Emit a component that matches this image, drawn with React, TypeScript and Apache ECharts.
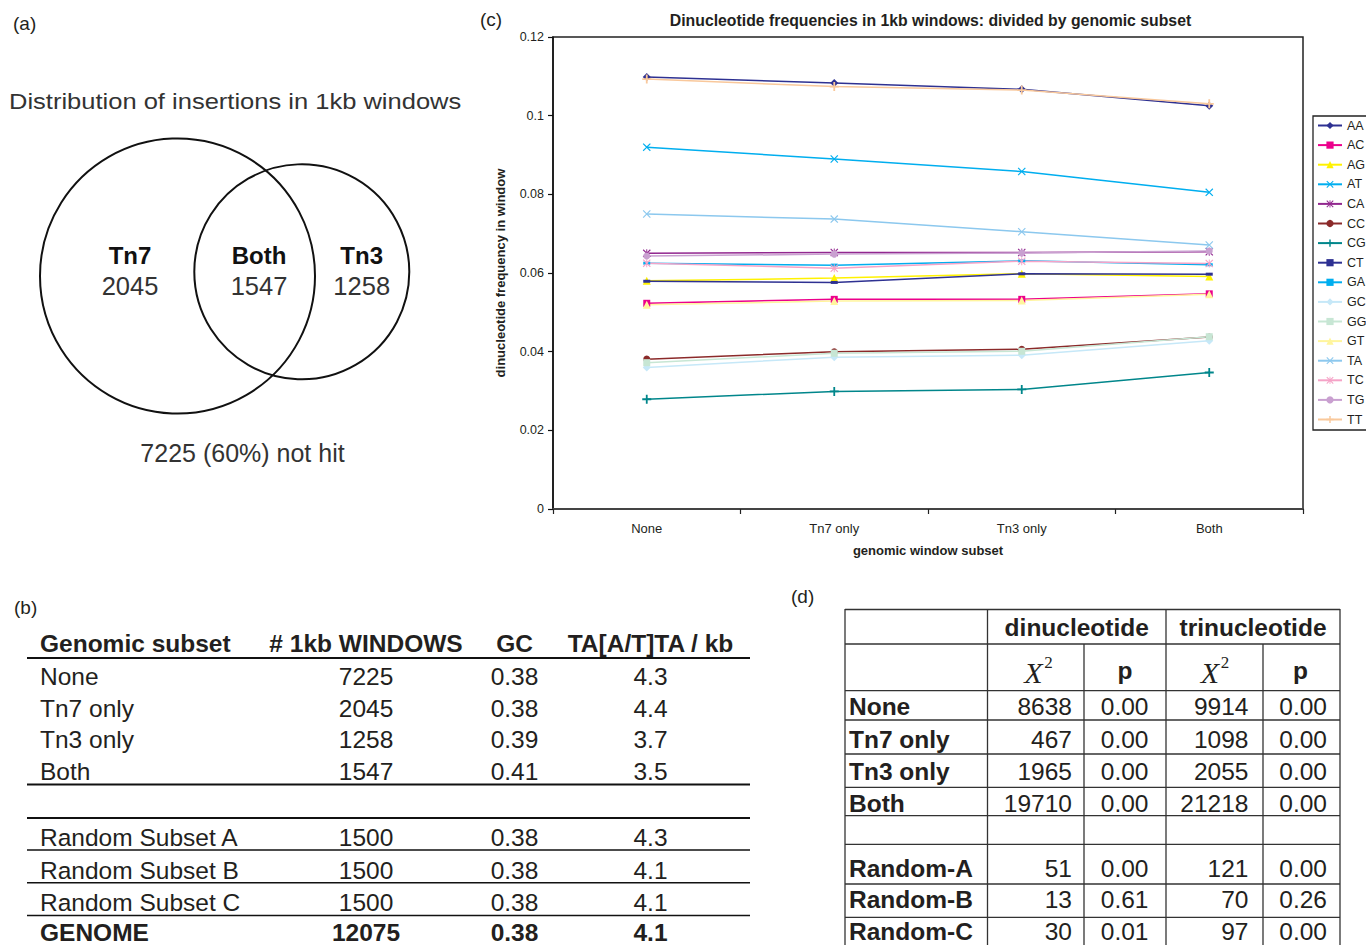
import React, { useEffect, useRef } from "react";
import * as echarts from "echarts";

// ---------------- data ----------------
const subsets = ["None", "Tn7 only", "Tn3 only", "Both"];
const dinucNames = ["AA", "AC", "AG", "AT", "CA", "CC", "CG", "CT", "GA", "GC", "GG", "GT", "TA", "TC", "TG", "TT"];

const AA = [0.1098, 0.1083, 0.1067, 0.1025];
const AC = [0.0523, 0.0533, 0.0533, 0.0547];
const AG = [0.058, 0.0587, 0.0598, 0.0591];
const AT = [0.092, 0.089, 0.0858, 0.0805];
const CA = [0.065, 0.0652, 0.0652, 0.0654];
const CC = [0.0381, 0.04, 0.0406, 0.0437];
const CG = [0.0279, 0.0299, 0.0304, 0.0347];
const CT = [0.0579, 0.0576, 0.0598, 0.0597];
const GA = [0.0625, 0.062, 0.0631, 0.0621];
const GC = [0.036, 0.0386, 0.0391, 0.0428];
const GG = [0.0372, 0.0396, 0.0401, 0.0438];
const GT = [0.0519, 0.0529, 0.053, 0.0546];
const TA = [0.075, 0.0737, 0.0705, 0.0671];
const TC = [0.0625, 0.0612, 0.063, 0.0624];
const TG = [0.0643, 0.0648, 0.0651, 0.0656];
const TT = [0.1093, 0.1074, 0.1065, 0.103];

const freqs: Record<string, number[]> = { AA, AC, AG, AT, CA, CC, CG, CT, GA, GC, GG, GT, TA, TC, TG, TT };

const yMin = 0;
const yMax = 0.12;
const yStep = 0.02;

// Venn (a)
const vennLabels = ["Tn7", "Both", "Tn3"];
const vennCounts = [2045, 1547, 1258];
const notHitCount = 7225;
const notHitPct = 60;

// Table (b)
const bHeaders = ["Genomic subset", "# 1kb WINDOWS", "GC", "TA[A/T]TA / kb"];
const bSubsets = ["None", "Tn7 only", "Tn3 only", "Both", "Random Subset A", "Random Subset B", "Random Subset C", "GENOME"];
const bWindows = [7225, 2045, 1258, 1547, 1500, 1500, 1500, 12075];
const bGC = [0.38, 0.38, 0.39, 0.41, 0.38, 0.38, 0.38, 0.38];
const bTA = [4.3, 4.4, 3.7, 3.5, 4.3, 4.1, 4.1, 4.1];

// Table (d)
const dGroups = ["dinucleotide", "trinucleotide"];
const dRows = ["None", "Tn7 only", "Tn3 only", "Both", "Random-A", "Random-B", "Random-C"];
const dDiX2 = [8638, 467, 1965, 19710, 51, 13, 30];
const dDiP = [0.0, 0.0, 0.0, 0.0, 0.0, 0.61, 0.01];
const dTriX2 = [9914, 1098, 2055, 21218, 121, 70, 97];
const dTriP = [0.0, 0.0, 0.0, 0.0, 0.0, 0.26, 0.0];

// ---------------- styles ----------------
const FONT = '"Liberation Sans", Arial, Helvetica, sans-serif';
const SERIF = '"Liberation Serif", "Times New Roman", serif';
const INK = "#231F20";

const PLUS = "path://M4,0H6V4H10V6H6V10H4V6H0V4H4Z";
const CROSS = "path://M1,0L5,4L9,0L10,1L6,5L10,9L9,10L5,6L1,10L0,9L4,5L0,1Z";
const STAR = "path://M1,0L5,4L9,0L10,1L6,5L10,9L9,10L5,6L1,10L0,9L4,5L0,1ZM4.4,0H5.6V10H4.4Z";

const seriesLook: Record<string, { color: string; symbol: string; size: number | number[] }> = {
  AA: { color: "#2E3192", symbol: "diamond", size: 8 },
  AC: { color: "#EC008C", symbol: "rect", size: 7 },
  AG: { color: "#FFF200", symbol: "triangle", size: 8 },
  AT: { color: "#00AEEF", symbol: CROSS, size: 8 },
  CA: { color: "#92278F", symbol: STAR, size: 8 },
  CC: { color: "#8B2A2A", symbol: "circle", size: 7 },
  CG: { color: "#00868B", symbol: PLUS, size: 9 },
  CT: { color: "#2E3192", symbol: "rect", size: [7, 3] },
  GA: { color: "#00AEEF", symbol: "rect", size: [7, 3] },
  GC: { color: "#C6E8F8", symbol: "diamond", size: 8 },
  GG: { color: "#C7E6D4", symbol: "rect", size: 7 },
  GT: { color: "#FFF59D", symbol: "triangle", size: 8 },
  TA: { color: "#8CC8EE", symbol: CROSS, size: 8 },
  TC: { color: "#F5A3C7", symbol: STAR, size: 8 },
  TG: { color: "#C9A0D0", symbol: "circle", size: 7 },
  TT: { color: "#F9C89B", symbol: PLUS, size: 9 },
};

type TOpt = { align?: string; size?: number; weight?: string; fstyle?: string; family?: string; color?: string; scaleX?: number };
function txt(text: string, x: number, y: number, o: TOpt = {}) {
  const align = o.align || "left";
  return {
    type: "text",
    x,
    y,
    scaleX: o.scaleX ?? 1,
    silent: true,
    z: 10,
    style: {
      text,
      fill: o.color || INK,
      fontFamily: o.family || FONT,
      fontSize: o.size ?? 24.5,
      fontWeight: o.weight || "normal",
      fontStyle: o.fstyle || "normal",
      align,
      textAlign: align,
      verticalAlign: "middle",
      textVerticalAlign: "middle",
    },
  };
}
function ln(x1: number, y1: number, x2: number, y2: number, w: number, color = "#111") {
  return { type: "line", silent: true, z: 5, shape: { x1, y1, x2, y2 }, style: { stroke: color, lineWidth: w } };
}

function buildGraphics() {
  const els: any[] = [];
  // panel letters
  els.push(txt("(a)", 13, 23, { size: 19 }));
  els.push(txt("(b)", 14, 607, { size: 19 }));
  els.push(txt("(c)", 480, 19, { size: 19 }));
  els.push(txt("(d)", 791, 596, { size: 19 }));

  // ----- (a) Venn -----
  els.push(txt("Distribution of insertions in 1kb windows", 9, 101.5, { size: 22, scaleX: 1.16, color: "#333" }));
  els.push({ type: "circle", silent: true, shape: { cx: 177.5, cy: 276, r: 137.5 }, style: { fill: "none", stroke: "#111", lineWidth: 2 } });
  els.push({ type: "circle", silent: true, shape: { cx: 301.8, cy: 271.8, r: 107.5 }, style: { fill: "none", stroke: "#111", lineWidth: 2 } });
  const vennX = [130, 259, 361.7];
  vennLabels.forEach((l, i) => {
    els.push(txt(l, vennX[i], 255, { align: "center", size: 24, weight: "bold", color: "#111" }));
    els.push(txt(String(vennCounts[i]), vennX[i], 286, { align: "center", size: 25.5, color: "#333" }));
  });
  els.push(txt(`${notHitCount} (${notHitPct}%) not hit`, 242.5, 453, { align: "center", size: 25, color: "#333" }));

  // ----- (b) table -----
  const bColX = [40, 366, 514.5, 650.5];
  bHeaders.forEach((h, i) => {
    els.push(txt(h, bColX[i], 643.3, { align: i === 0 ? "left" : "center", weight: "bold" }));
  });
  const bRowY = [676.7, 708.3, 739.5, 771.5, 837.7, 870, 902, 932.4];
  bSubsets.forEach((s, i) => {
    const w = i === bSubsets.length - 1 ? "bold" : "normal";
    els.push(txt(s, bColX[0], bRowY[i], { weight: w }));
    els.push(txt(String(bWindows[i]), bColX[1], bRowY[i], { align: "center", weight: w }));
    els.push(txt(bGC[i].toFixed(2), bColX[2], bRowY[i], { align: "center", weight: w }));
    els.push(txt(bTA[i].toFixed(1), bColX[3], bRowY[i], { align: "center", weight: w }));
  });
  [
    [658, 2.2],
    [784.5, 2.2],
    [818, 2],
    [850, 1.6],
    [882.7, 1.6],
    [915.5, 1.6],
  ].forEach(([y, w]) => els.push(ln(27, y, 750, y, w)));

  // ----- (d) table -----
  const dL = 845, dC1 = 987.5, dC2 = 1084, dC3 = 1166, dC4 = 1263, dR = 1340;
  const hY = [609.5, 644, 690.7, 720, 754, 787.3, 815.7, 844.3, 884, 917.3];
  const lc = "#333";
  hY.forEach((y) => els.push(ln(dL, y, dR, y, 1.3, lc)));
  [dL, dC1, dC3, dR].forEach((x) => els.push(ln(x, 609, x, 945, 1.3, lc)));
  [dC2, dC4].forEach((x) => els.push(ln(x, 644, x, 945, 1.3, lc)));
  els.push(txt(dGroups[0], (dC1 + dC3) / 2, 627, { align: "center", weight: "bold" }));
  els.push(txt(dGroups[1], (dC3 + dR) / 2, 627, { align: "center", weight: "bold" }));
  // X^2 and p
  [[1033.5, 1048.5], [1210, 1225]].forEach(([xx, sx]) => {
    els.push(txt("X", xx, 672, { align: "center", size: 30, family: SERIF, fstyle: "italic" }));
    els.push(txt("2", sx, 662, { align: "center", size: 17, family: SERIF }));
  });
  els.push(txt("p", (dC2 + dC3) / 2, 670, { align: "center", weight: "bold" }));
  els.push(txt("p", (dC4 + dR) / 2 - 1, 670, { align: "center", weight: "bold" }));
  const dRowY = [706, 739, 771, 803, 868, 899.5, 931];
  dRows.forEach((r, i) => {
    const y = dRowY[i];
    els.push(txt(r, 849, y, { weight: "bold" }));
    els.push(txt(String(dDiX2[i]), 1072, y, { align: "right" }));
    els.push(txt(dDiP[i].toFixed(2), 1148.5, y, { align: "right" }));
    els.push(txt(String(dTriX2[i]), 1248.5, y, { align: "right" }));
    els.push(txt(dTriP[i].toFixed(2), 1327, y, { align: "right" }));
  });

  // ----- (c) title -----
  els.push(txt("Dinucleotide frequencies in 1kb windows: divided by genomic subset", 930.5, 20.5, { align: "center", size: 15.8, weight: "bold" }));
  return els;
}

export default function App() {
  const ref = useRef<HTMLDivElement>(null);
  useEffect(() => {
    if (!ref.current) return;
    const chart = echarts.init(ref.current, undefined, { renderer: "svg" });
    const option: any = {
      animation: false,
      backgroundColor: "#ffffff",
      textStyle: { fontFamily: FONT },
      grid: {
        left: 553,
        top: 37,
        width: 750,
        height: 472,
        show: true,
        borderColor: "#222",
        borderWidth: 1.5,
        containLabel: false,
        outerBoundsMode: "none",
      },
      xAxis: {
        type: "category",
        data: subsets,
        boundaryGap: true,
        axisLine: { show: true, lineStyle: { color: "#444", width: 2.2 } },
        axisTick: { show: true, length: 5, alignWithLabel: false, lineStyle: { color: "#222", width: 1.2 } },
        axisLabel: { fontSize: 13, color: INK, margin: 13, fontFamily: FONT },
        splitLine: { show: false },
        name: "genomic window subset",
        nameLocation: "middle",
        nameGap: 35,
        nameTextStyle: { fontSize: 13, fontWeight: "bold", color: INK, fontFamily: FONT },
      },
      yAxis: {
        type: "value",
        min: yMin,
        max: yMax,
        interval: yStep,
        axisLine: { show: true, lineStyle: { color: "#111", width: 1.5 } },
        axisTick: { show: true, length: 5, lineStyle: { color: "#111", width: 1.2 } },
        axisLabel: { fontSize: 12.5, color: INK, margin: 9, fontFamily: FONT },
        splitLine: { show: false },
        name: "dinucleotide frequency in window",
        nameLocation: "middle",
        nameRotate: 90,
        nameGap: 46,
        nameTextStyle: { fontSize: 13, fontWeight: "bold", color: INK, fontFamily: FONT },
      },
      legend: {
        orient: "vertical",
        left: 1313,
        top: 116,
        itemWidth: 24,
        itemHeight: 9,
        itemGap: 6.6,
        padding: [3, 14, 4, 4],
        borderColor: "#222",
        borderWidth: 1.3,
        selectedMode: false,
        data: dinucNames,
        textStyle: { fontSize: 12.5, color: INK, fontFamily: FONT },
      },
      series: dinucNames.map((n) => {
        const look = seriesLook[n];
        return {
          name: n,
          type: "line",
          data: freqs[n],
          symbol: look.symbol,
          symbolSize: look.size,
          showSymbol: true,
          lineStyle: { color: look.color, width: 1.5 },
          itemStyle: { color: look.color },
          emphasis: { disabled: true },
        };
      }),
      graphic: { elements: buildGraphics() },
    };
    chart.setOption(option);
    return () => chart.dispose();
  }, []);
  return <div ref={ref} style={{ position: "absolute", left: 0, top: 0, width: 1366, height: 945 }} />;
}
